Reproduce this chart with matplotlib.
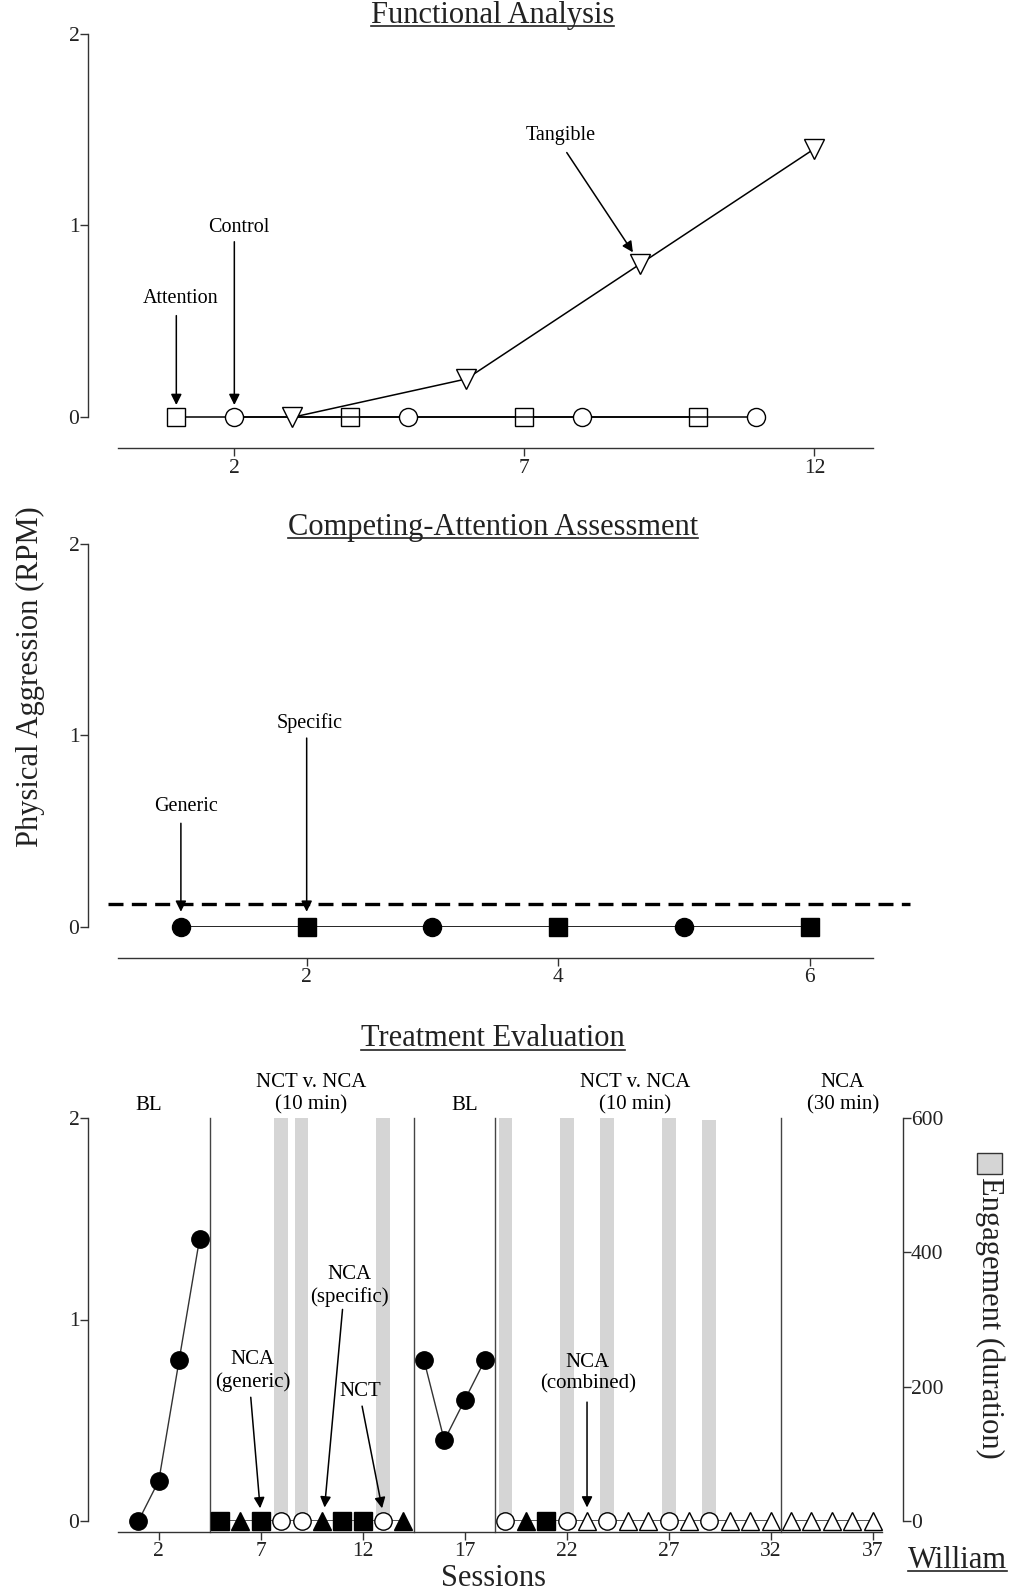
import numpy as np
import matplotlib
matplotlib.use("Agg")
import matplotlib.pyplot as plt
from matplotlib.lines import Line2D
from matplotlib.patches import Rectangle

plt.rcParams.update({
    "font.family": ["Liberation Serif", "DejaVu Serif"],
    "xtick.direction": "out",
    "ytick.direction": "out",
    "axes.linewidth": 1.0,
})

W, H = 1013, 1596

# ---- Functional analysis ----
fa_attention_x = [1, 4, 7, 10]
fa_attention_y = [0, 0, 0, 0]
fa_control_x = [2, 5, 8, 11]
fa_control_y = [0, 0, 0, 0]
fa_tangible_x = [3, 6, 9, 12]
fa_tangible_y = [0, 0.2, 0.8, 1.4]
fa_xticks = [2, 7, 12]

# ---- Competing-attention assessment ----
ca_generic_x = [1, 3, 5]
ca_generic_y = [0, 0, 0]
ca_specific_x = [2, 4, 6]
ca_specific_y = [0, 0, 0]
ca_criterion = 0.12
ca_xticks = [2, 4, 6]

# ---- Treatment evaluation ----
bl1_x = [1, 2, 3, 4]
bl1_y = [0, 0.2, 0.8, 1.4]
bl2_x = [15, 16, 17, 18]
bl2_y = [0.8, 0.4, 0.6, 0.8]
generic_x = [5, 7, 11, 12, 21]            # NCA (generic) filled squares
generic_y = [0, 0, 0, 0, 0]
specific_x = [6, 10, 14, 20]               # NCA (specific) filled triangles
specific_y = [0, 0, 0, 0]
nct_x = [8, 9, 13, 19, 22, 24, 27, 29]     # NCT open circles
nct_y = [0, 0, 0, 0, 0, 0, 0, 0]
combined_x = [23, 25, 26, 28, 30, 31, 32, 33, 34, 35, 36, 37]
combined_y = [0] * 12
engage_x = [8, 9, 13, 19, 22, 24, 27, 29]
engage_y = [600, 600, 600, 600, 600, 600, 600, 597]
phase_lines = [4.5, 14.5, 18.5, 32.5]
phase_spans = [[5, 14], [19, 32], [33, 37]]
te_xticks = [2, 7, 12, 17, 22, 27, 32, 37]


def px_rect(l, t, r, b):
    return [l / W, 1 - b / H, (r - l) / W, (b - t) / H]


def pt(px):
    return px * 72 / 100


fig = plt.figure(figsize=(W / 100, H / 100), dpi=100)

TICKFS = 15.5
ANNFS = 14.5
MS = 13
MS3 = 12.5


def style_axes(ax, left_off, bottom_off, xticks):
    for s in ("top", "right"):
        ax.spines[s].set_visible(False)
    ax.spines["left"].set_position(("outward", pt(left_off)))
    ax.spines["bottom"].set_position(("outward", pt(bottom_off)))
    ax.spines["left"].set_color("#333333")
    ax.spines["bottom"].set_color("#333333")
    ax.set_yticks([0, 1, 2])
    ax.set_xticks(xticks)
    ax.tick_params(axis="both", labelsize=TICKFS, length=5.5, width=1.0,
                   color="#333333", labelcolor="#222222")
    ax.tick_params(axis="y", pad=0.5)
    ax.tick_params(axis="x", pad=2)


def arrow(ax, start, tip):
    ax.annotate("", xy=tip, xytext=start,
                arrowprops=dict(arrowstyle="-|>", color="k", lw=1.1,
                                mutation_scale=16, shrinkA=0, shrinkB=0),
                annotation_clip=False)


# ================= Functional analysis =================
ax1 = fig.add_axes(px_rect(118.3, 33.6, 872.5, 417.3))
ax1.set_xlim(0, 13)
ax1.set_ylim(0, 2)
style_axes(ax1, 30.6, 31, fa_xticks)
lk = dict(color="k", lw=1.1, mec="k", mfc="white", mew=1.0, clip_on=False)
ax1.plot(fa_attention_x, fa_attention_y, marker="s", ms=MS, **lk)
ax1.plot(fa_control_x, fa_control_y, marker="o", ms=MS, **lk)
ax1.plot(fa_tangible_x, fa_tangible_y, marker="v", ms=MS + 1, **lk)
ax1.text(1.08, 0.617, "Attention", ha="center", va="center", fontsize=ANNFS)
arrow(ax1, (1, 0.53), (1, 0.064))
ax1.text(2.08, 0.99, "Control", ha="center", va="center", fontsize=ANNFS)
arrow(ax1, (2, 0.915), (2, 0.064))
ax1.text(7.63, 1.47, "Tangible", ha="center", va="center", fontsize=ANNFS)
arrow(ax1, (7.73, 1.38), (8.87, 0.86))

# ================= Competing-attention assessment =================
ax2 = fig.add_axes(px_rect(118, 543.7, 872.7, 926.7))
ax2.set_xlim(0.5, 6.5)
ax2.set_ylim(0, 2)
style_axes(ax2, 30.3, 31, ca_xticks)
ca_all_x = sorted(ca_generic_x + ca_specific_x)
ax2.plot([ca_all_x[0], ca_all_x[-1]], [0, 0], color="k", lw=1.2)
ax2.plot(ca_generic_x, ca_generic_y, marker="o", ms=MS, ls="none",
         mfc="k", mec="k", clip_on=False)
ax2.plot(ca_specific_x, ca_specific_y, marker="s", ms=MS, ls="none",
         mfc="k", mec="k", clip_on=False)
ax2.plot([0.42, 6.80], [ca_criterion, ca_criterion], color="k", lw=2.4,
         ls=(0, (4.5, 2.5)), clip_on=False)
ax2.text(1.04, 0.63, "Generic", ha="center", va="center", fontsize=ANNFS)
arrow(ax2, (1, 0.54), (1, 0.078))
ax2.text(2.02, 1.065, "Specific", ha="center", va="center", fontsize=ANNFS)
arrow(ax2, (2, 0.985), (2, 0.078))

# ================= Treatment evaluation =================
ax3 = fig.add_axes(px_rect(118, 1118, 881.7, 1521))
ax3.set_xlim(0, 37.45)
ax3.set_ylim(0, 2)
style_axes(ax3, 30.3, 10.7, te_xticks)
ax3r = ax3.twinx()
ax3r.set_ylim(0, 600)
ax3r.set_zorder(0)
ax3.set_zorder(1)
ax3.patch.set_visible(False)
for s in ("top", "left", "bottom"):
    ax3r.spines[s].set_visible(False)
ax3r.spines["right"].set_position(("outward", pt(21.3)))
ax3r.spines["right"].set_color("#333333")
ax3r.set_yticks([0, 200, 400, 600])
ax3r.tick_params(axis="y", labelsize=TICKFS, length=5.5, width=1.0,
                 color="#333333", labelcolor="#222222", pad=0)
ax3r.bar(engage_x, engage_y, width=0.68, color="#d5d5d5", edgecolor="none")
ax3r.set_xlim(0, 37.45)

for xv in phase_lines:
    ax3.plot([xv, xv], [-0.053, 2], color="#444444", lw=1.0, clip_on=False)

lk3 = dict(color="#333333", lw=1.0, mec="k", mew=1.0, clip_on=False)
ax3.plot(bl1_x, bl1_y, marker="o", ms=MS3, mfc="k", **lk3)
ax3.plot(bl2_x, bl2_y, marker="o", ms=MS3, mfc="k", **lk3)
for seg in phase_spans:
    ax3.plot(seg, [0, 0], color="#555555", lw=1.4, zorder=2)
ax3.plot(generic_x, generic_y, marker="s", ms=MS3, mfc="k", ls="none",
         mec="k", clip_on=False, zorder=3)
ax3.plot(specific_x, specific_y, marker="^", ms=MS3 + 1, mfc="k", ls="none",
         mec="k", clip_on=False, zorder=3)
ax3.plot(nct_x, nct_y, marker="o", ms=MS3, mfc="white", ls="none",
         mec="k", mew=1.0, clip_on=False, zorder=3)
ax3.plot(combined_x, combined_y, marker="^", ms=MS3 + 1, mfc="white",
         ls="none", mec="k", mew=1.0, clip_on=False, zorder=3)

PFS = 15
ax3.text(1.49, 2.015, "BL", ha="center", va="bottom", fontsize=PFS)
ax3.text(9.45, 2.015, "NCT v. NCA\n(10 min)", ha="center", va="bottom",
         fontsize=PFS, linespacing=1.25)
ax3.text(17.01, 2.015, "BL", ha="center", va="bottom", fontsize=PFS)
ax3.text(25.37, 2.015, "NCT v. NCA\n(10 min)", ha="center", va="bottom",
         fontsize=PFS, linespacing=1.25)
ax3.text(35.54, 2.015, "NCA\n(30 min)", ha="center", va="bottom",
         fontsize=PFS, linespacing=1.25)

ax3.text(6.6, 0.745, "NCA\n(generic)", ha="center", va="center",
         fontsize=PFS, linespacing=1.2)
arrow(ax3, (6.51, 0.614), (6.97, 0.063))
ax3.text(11.34, 1.166, "NCA\n(specific)", ha="center", va="center",
         fontsize=PFS, linespacing=1.2)
arrow(ax3, (11.01, 1.05), (10.13, 0.067))
ax3.text(11.89, 0.645, "NCT", ha="center", va="center", fontsize=PFS)
arrow(ax3, (11.97, 0.57), (12.95, 0.063))
ax3.text(23.04, 0.733, "NCA\n(combined)", ha="center", va="center",
         fontsize=PFS, linespacing=1.2)
arrow(ax3, (23.0, 0.59), (23.0, 0.067))

# ================= figure-level text =================
BIG = 22
renderer = fig.canvas.get_renderer()


def underlined(px, py_base, s, gap=3.5):
    t = fig.text(px / W, 1 - py_base / H, s, ha="center", va="baseline",
                 fontsize=BIG, color="#222222")
    bb = t.get_window_extent(renderer=renderer)
    y = 1 - (py_base + gap) / H
    fig.add_artist(Line2D([bb.x0 / W, bb.x1 / W], [y, y],
                          transform=fig.transFigure, color="#222222", lw=1.2))


underlined(492.7, 22.9, "Functional Analysis")
underlined(492.7, 534.5, "Competing-Attention Assessment")
underlined(492.7, 1046.5, "Treatment Evaluation")
underlined(957.5, 1567.5, "William")

fig.text(30.5 / W, 1 - 677 / H, "Physical Aggression (RPM)", rotation=90,
         ha="center", va="center", fontsize=BIG, color="#222222")
fig.text(493.8 / W, 1 - 1578 / H, "Sessions", ha="center", va="center",
         fontsize=BIG, color="#222222")
fig.add_artist(Rectangle((977 / W, 1 - 1174 / H), 25 / W, 21 / H,
                         transform=fig.transFigure, facecolor="#d5d5d5",
                         edgecolor="#333333", lw=1.0))
fig.text(990 / W, 1 - 1177 / H, "Engagement (duration)", rotation=270,
         ha="center", va="top", fontsize=BIG, color="#222222")

fig.savefig("out.png", dpi=100)
